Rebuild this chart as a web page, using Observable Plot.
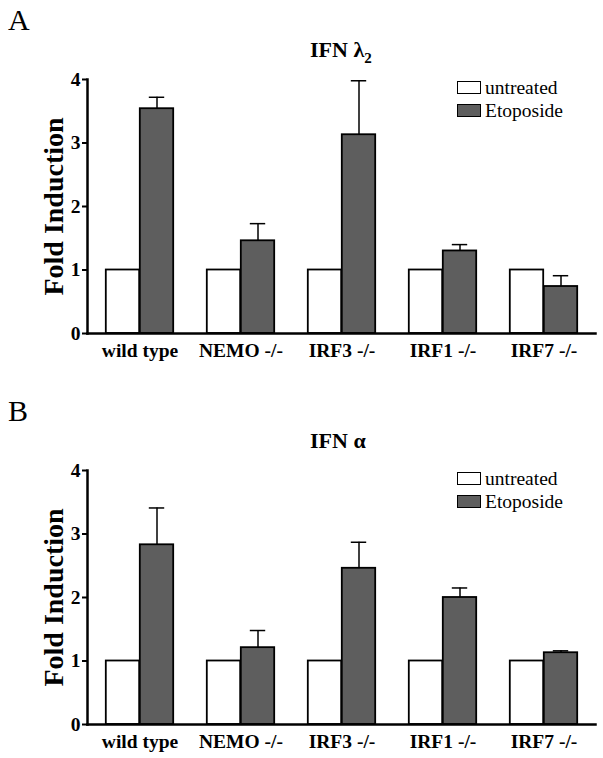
<!DOCTYPE html>
<html>
<head>
<meta charset="utf-8">
<script src="https://cdn.jsdelivr.net/npm/d3@7"></script>
<script src="https://cdn.jsdelivr.net/npm/@observablehq/plot@0.6"></script>
<style>
  html, body { margin: 0; padding: 0; background: #fff; }
  body { width: 603px; height: 758px; overflow: hidden; font-family: "Liberation Serif", "Times New Roman", serif; }
  .panel { position: relative; width: 603px; }
  .panel svg { position: absolute; left: 0; top: 0; }
  .letter { position: absolute; left: 8px; top: 5px; font-size: 30px; line-height: 30px; }
  .title { position: absolute; left: 310px; top: 39px; font-size: 22px; line-height: 22px; font-weight: bold; z-index: 2; }
  .title sub { font-size: 15px; vertical-align: -6px; }
  .leg { position: absolute; left: 457px; z-index: 2; }
  .leg .box { position: absolute; left: 0; width: 22px; height: 11px; border: 1.5px solid #000; }
  .leg .lab { position: absolute; left: 28px; font-size: 19.5px; line-height: 19px; white-space: nowrap; }
</style>
</head>
<body>
<div id="A" class="panel" style="height:391px"></div>
<div id="B" class="panel" style="height:367px"></div>
<script>
const groups = ["wild type", "NEMO -/-", "IRF3 -/-", "IRF1 -/-", "IRF7 -/-"];
const treatments = ["untreated", "Etoposide"];
const yTicks = [0, 1, 2, 3, 4];

// Panel A: IFN λ2
const untreatedA = [1, 1, 1, 1, 1];
const etoposideA = [3.54, 1.46, 3.13, 1.30, 0.74];
const etoposideErrA = [0.18, 0.27, 0.85, 0.10, 0.17];

// Panel B: IFN α
const untreatedB = [1, 1, 1, 1, 1];
const etoposideB = [2.83, 1.21, 2.46, 2.00, 1.13];
const etoposideErrB = [0.58, 0.27, 0.41, 0.15, 0.03];

const colors = ["#ffffff", "#5e5e5e"];

function panel(id, letter, titleHTML, untreated, etoposide, err) {
  const el = document.getElementById(id);
  const W = 603, mL = 87, mR = 8;
  const step = (W - mL - mR) / groups.length;
  const barW = 34;
  const rows = groups.map((g, i) => ({group: g, u: untreated[i], e: etoposide[i], err: err[i], top: etoposide[i] + err[i]}));

  const svg = Plot.plot({
    width: W,
    height: 379,
    marginLeft: mL,
    marginRight: mR,
    marginTop: 79,
    marginBottom: 46,
    x: {domain: groups, padding: 0, axis: null},
    y: {domain: [0, 4], axis: null},
    style: {fontFamily: "Liberation Serif, Times New Roman, serif", fontWeight: "bold", fontSize: "19px", color: "#000", background: "transparent"},
    marks: [
      Plot.axisY({ticks: yTicks, tickFormat: d3.format("d"), tickSize: 5, tickPadding: 2, strokeWidth: 2, label: null, fontSize: 19.5}),
      Plot.axisX({tickSize: 0, tickPadding: 10, label: null, fontSize: 19.5}),
      Plot.text(["Fold Induction"], {frameAnchor: "left", rotate: -90, dx: -33, fontSize: 28, fontWeight: "bold", textAnchor: "middle"}),
      Plot.ruleX(rows, {x: "group", y1: "e", y2: "top", dx: barW / 2, stroke: "#000", strokeWidth: 1.5}),
      Plot.tickY(rows, {x: "group", y: "top", insetLeft: step / 2 + barW / 2 - 8, insetRight: step / 2 - barW / 2 - 8, stroke: "#000", strokeWidth: 1.5}),
      Plot.barY(rows, {x: "group", y: "u", fill: colors[0], stroke: "#000", strokeWidth: 1.8, insetLeft: step / 2 - barW, insetRight: step / 2}),
      Plot.barY(rows, {x: "group", y: "e", fill: colors[1], stroke: "#000", strokeWidth: 1.8, insetLeft: step / 2, insetRight: step / 2 - barW}),
      Plot.frame({anchor: "left", strokeWidth: 2.5}),
      Plot.frame({anchor: "bottom", strokeWidth: 2.5})
    ]
  });
  el.appendChild(svg);

  const L = document.createElement("div");
  L.className = "letter"; L.textContent = letter; el.appendChild(L);
  const T = document.createElement("div");
  T.className = "title"; T.innerHTML = titleHTML; el.appendChild(T);

  const leg = document.createElement("div");
  leg.className = "leg"; leg.style.top = "0px";
  treatments.forEach((t, i) => {
    const b = document.createElement("div");
    b.className = "box"; b.style.top = (81 + i * 23) + "px"; b.style.background = colors[i];
    const s = document.createElement("div");
    s.className = "lab"; s.style.top = (78 + i * 23) + "px"; s.textContent = t;
    leg.appendChild(b); leg.appendChild(s);
  });
  el.appendChild(leg);
}

panel("A", "A", "IFN λ<sub>2</sub>", untreatedA, etoposideA, etoposideErrA);
panel("B", "B", "IFN α", untreatedB, etoposideB, etoposideErrB);
</script>
</body>
</html>
